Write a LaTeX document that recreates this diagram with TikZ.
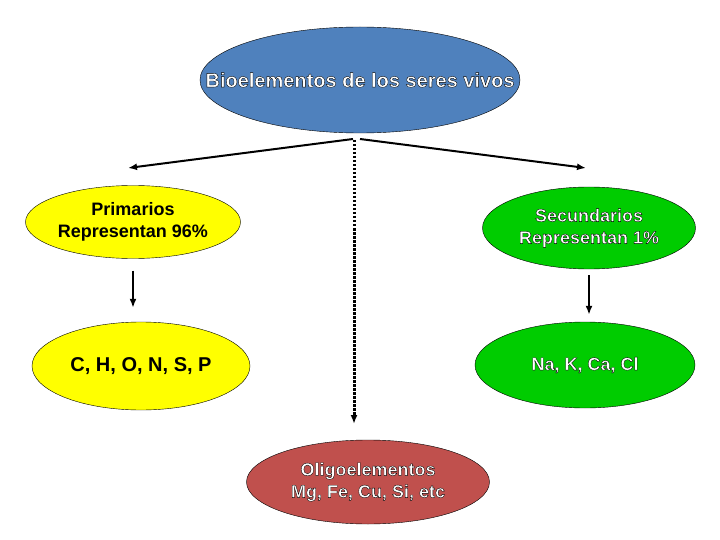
\documentclass[tikz,border=0pt]{standalone}
\usepackage{fontspec}
\setmainfont{Liberation Sans}
\usepackage{xcolor}
\definecolor{ROOTCOLOR}{RGB}{79,129,189}
\definecolor{PRIMCOLOR}{RGB}{255,255,0}
\definecolor{SECCOLOR}{RGB}{0,204,0}
\definecolor{OLIGOCOLOR}{RGB}{192,80,77}
\usetikzlibrary{shapes,arrows.meta,positioning}
\tikzset{
  basic-style/.style = {
    ellipse, draw, thin,
    fill=#1,
    inner sep=0pt,
    align=center,
    font=\bfseries\fontsize{18}{22}\selectfont
  },
  root-style/.style = {
    basic-style=ROOTCOLOR,
    minimum width=320pt, minimum height=106pt,
    text=white, font=\bfseries\fontsize{20}{24}\selectfont
  },
  prim-style/.style = {
    basic-style=PRIMCOLOR,
    minimum width=215pt, minimum height=73pt
  },
  sec-style/.style = {
    basic-style=SECCOLOR,
    minimum width=213pt, minimum height=82pt,
    text=white
  },
  oligo-style/.style = {
    basic-style=OLIGOCOLOR,
    minimum width=243pt, minimum height=84pt,
    text=white
  },
  dots-style/.style = {
    line width=3pt, dash pattern=on 2.5pt off 1.5pt
  },
  every edge/.style = {draw, -{Latex[length=9pt,width=7pt]}, line width=2pt}
}
% white letters with a thin black rim
\newcommand\outlined[1]{\special{pdf:code 2 Tr 0.35 w 0 G}#1\special{pdf:code 0 Tr}}

\begin{document}
\begin{tikzpicture}[x=1pt,y=-1pt]
  \useasboundingbox (0,0) rectangle (720,540);

  \node[root-style] (root) at (360,80) {\makebox[0pt]{\outlined{Bioelementos de los seres vivos}}};
  \node[prim-style] (prim) at (133,222) {Primarios\\Representan 96\%};
  \node[sec-style] (sec) at (589,228) {\outlined{Secundarios}\\\outlined{Representan 1\%}};
  \node[prim-style, minimum width=218pt, minimum height=88pt,
        font=\bfseries\fontsize{20}{24}\selectfont] (chon) at (141,366) {C, H, O, N, S, P};
  \node[sec-style, minimum width=220pt, minimum height=86pt] (nak) at (585,365) {\outlined{Na, K, Ca, Cl}};
  \node[oligo-style] (oligo) at (368,482) {\outlined{Oligoelementos}\\\outlined{Mg, Fe, Cu, Si, etc}};

  \coordinate (splitL) at (353,139);
  \coordinate (splitR) at (360,139);
  \coordinate (splitM) at (354,140);
  \coordinate (primTip) at (128,168);
  \coordinate (secTip) at (586,168);
  \coordinate (oligoTip) at (354,424);

  \path (splitL) edge (primTip);
  \path (splitR) edge (secTip);
  \path (splitM) edge[dots-style] (oligoTip);
  \path (prim.south) edge[shorten <=12pt, shorten >=14pt] (prim.south |- chon.north);
  \path (sec.south) edge[shorten <=6pt, shorten >=7pt] (sec.south |- nak.north);
\end{tikzpicture}
\end{document}
